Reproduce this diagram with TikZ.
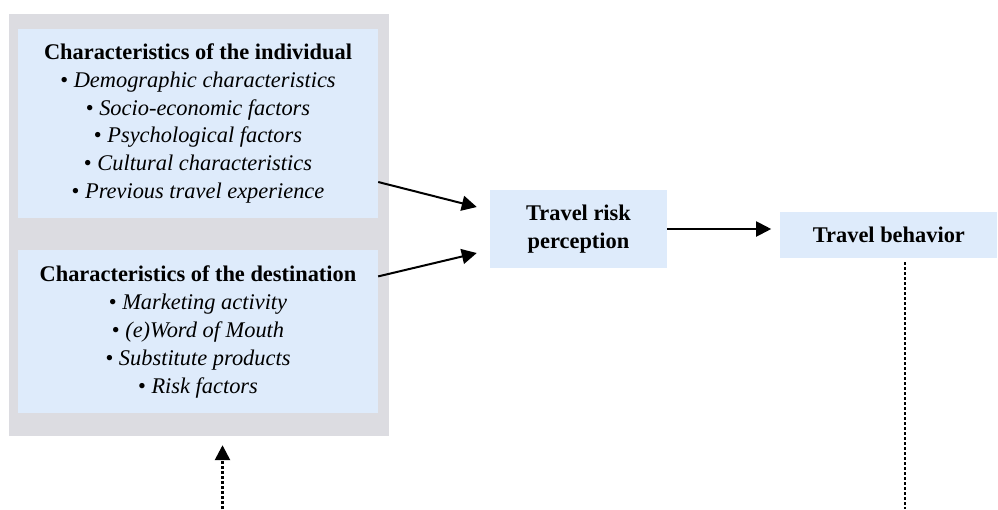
\documentclass[tikz,border=0pt]{standalone}
\usepackage{fontspec}
\setmainfont{Liberation Serif}
\usetikzlibrary{arrows.meta,positioning,calc}
\definecolor{boxblue}{RGB}{222,235,251}
\definecolor{groupgray}{RGB}{220,220,225}
\tikzset{
  factor/.style={rectangle, fill=boxblue, inner sep=0pt, align=center,
                 font=\fontsize{22.4}{27.8}\selectfont},
  group/.style={rectangle, fill=groupgray, inner sep=0pt},
  arrow/.style={-{Triangle[length=15pt,width=15pt]}, line width=2pt},
  feedback/.style={line width=2.6pt, dash pattern=on 3pt off 2pt}
}
\begin{document}
\begin{tikzpicture}[x=1pt,y=-1pt]
\useasboundingbox (0,0) rectangle (998,509);
\node[group, minimum width=380pt, minimum height=422pt] (grp) at (199,225) {};
\node[factor, minimum width=360pt, minimum height=189pt] (ind) at (198,123.5)
  {\textbf{Characteristics of the individual}\\
   \textbullet{} \textit{Demographic characteristics}\\
   \textbullet{} \textit{Socio-economic factors}\\
   \textbullet{} \textit{Psychological factors}\\
   \textbullet{} \textit{Cultural characteristics}\\
   \textbullet{} \textit{Previous travel experience}};
\node[factor, minimum width=360pt, minimum height=163pt, below=32pt of ind] (dest)
  {\textbf{Characteristics of the destination}\\
   \textbullet{} \textit{Marketing activity}\\
   \textbullet{} \textit{(e)Word of Mouth}\\
   \textbullet{} \textit{Substitute products}\\
   \textbullet{} \textit{Risk factors}};
\node[factor, minimum width=177pt, minimum height=78pt] (risk) at (578.5,229)
  {\textbf{Travel risk}\\\textbf{perception}};
\node[factor, minimum width=217pt, minimum height=46pt, right=113pt of risk, yshift=-6pt] (beh)
  {\textbf{Travel behavior}};
\coordinate (fbr) at (905,509);
\coordinate (fbl) at (222.5,509);
\draw[arrow] ([yshift=-58.5pt]ind.east) -- ([xshift=-13pt,yshift=22pt]risk.west);
\draw[arrow] ([yshift=55.5pt]dest.east) -- ([xshift=-13pt,yshift=-24pt]risk.west);
\draw[arrow, shorten >=9pt] (risk.east) -- (risk.east -| beh.west);
\draw[feedback, shorten <=4pt] (fbr |- beh.south) -- (fbr);
\draw[arrow, feedback, shorten >=9pt] (fbl) -- (fbl |- grp.south);
\end{tikzpicture}
\end{document}
